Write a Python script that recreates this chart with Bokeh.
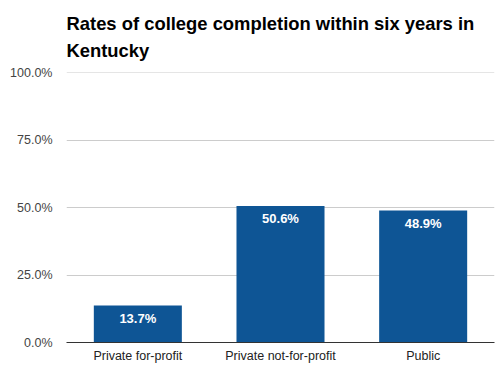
from bokeh.plotting import figure
from bokeh.models import ColumnDataSource, FactorRange, Range1d, NumeralTickFormatter, LabelSet, Title, FixedTicker
from bokeh.core.properties import value
from bokeh.embed import file_html
from bokeh.resources import INLINE

categories = ["Private for-profit", "Private not-for-profit", "Public"]
values = [0.137, 0.506, 0.489]
y_ticks = [0, 0.25, 0.5, 0.75, 1.0]
title_lines = ["Rates of college completion within six years in", "Kentucky"]

FONT = "Liberation Sans"
BAR = "#0e5595"

src = ColumnDataSource(dict(cat=categories, val=values,
                            lab=[f"{v*100:.1f}%" for v in values]))

p = figure(x_range=FactorRange(*categories, range_padding=0), y_range=Range1d(0, 1.001),
           frame_width=428, frame_height=270, output_backend="svg", toolbar_location=None,
           min_border_left=66, min_border_right=2, min_border_top=72, min_border_bottom=0)
p.outline_line_color = None
p.background_fill_color = "white"
p.border_fill_color = "white"

p.vbar(x="cat", top="val", width=0.617, source=src, color=BAR, line_color=None)

p.add_layout(LabelSet(x="cat", y="val", text="lab", source=src, text_align="center",
                      text_baseline="top", y_offset=-5, text_color="white",
                      text_font=value(FONT), text_font_size="13px", text_font_style="bold"))

p.yaxis.ticker = FixedTicker(ticks=y_ticks)
p.yaxis.formatter = NumeralTickFormatter(format="0.0%")
p.yaxis.axis_line_color = None
p.yaxis.major_tick_line_color = None
p.yaxis.minor_tick_line_color = None
p.yaxis.major_label_text_font = FONT
p.yaxis.major_label_text_font_size = "12.5px"
p.yaxis.major_label_text_color = "#444444"
p.yaxis.major_label_standoff = 8

p.xaxis.axis_line_color = "#333333"
p.xaxis.major_tick_line_color = None
p.xaxis.minor_tick_line_color = None
p.xaxis.major_label_text_font = FONT
p.xaxis.major_label_text_font_size = "12.5px"
p.xaxis.major_label_text_color = "#222222"
p.xaxis.major_label_standoff = 0

p.xgrid.grid_line_color = None
p.ygrid.grid_line_color = "#cccccc"
p.ygrid.ticker = FixedTicker(ticks=y_ticks[1:])

p.add_layout(Title(text="\n".join(title_lines), text_font=FONT, text_font_size="18.4px",
                   text_font_style="bold", text_color="#000000", align="left",
                   text_line_height=1.3, standoff=22), "above")

open("out.html", "w").write(file_html(p, INLINE))
